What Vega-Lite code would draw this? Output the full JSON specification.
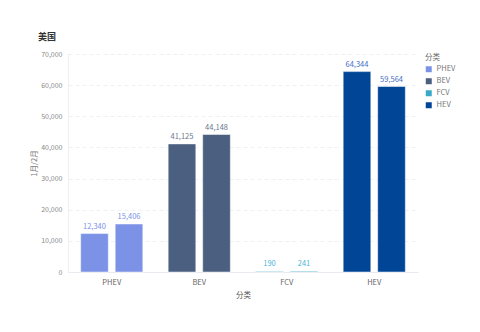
{
  "$schema": "https://vega.github.io/schema/vega-lite/v6.json",
  "autosize": {"type": "none"},
  "width": 350,
  "height": 218,
  "padding": {"left": 68, "top": 54, "right": 62, "bottom": 60},
  "background": "#ffffff",
  "title": {
    "text": "美国",
    "anchor": "start",
    "frame": "group",
    "dx": -30,
    "offset": 8,
    "font": "Noto Sans CJK SC",
    "fontSize": 9,
    "fontWeight": "bold",
    "color": "#333333"
  },
  "data": {
    "values": [
      {"分类": "PHEV", "月份": "1月", "销量": 12340},
      {"分类": "PHEV", "月份": "2月", "销量": 15406},
      {"分类": "BEV", "月份": "1月", "销量": 41125},
      {"分类": "BEV", "月份": "2月", "销量": 44148},
      {"分类": "FCV", "月份": "1月", "销量": 190},
      {"分类": "FCV", "月份": "2月", "销量": 241},
      {"分类": "HEV", "月份": "1月", "销量": 64344},
      {"分类": "HEV", "月份": "2月", "销量": 59564}
    ]
  },
  "encoding": {
    "x": {
      "field": "分类",
      "type": "nominal",
      "sort": ["PHEV", "BEV", "FCV", "HEV"],
      "scale": {"paddingInner": 0.29, "paddingOuter": 0.145},
      "axis": {
        "title": "分类",
        "labelAngle": 0,
        "ticks": false,
        "labelPadding": 6,
        "titlePadding": 6,
        "domainColor": "#e8eaef",
        "labelColor": "#666666",
        "titleColor": "#555555",
        "labelFontSize": 7.5,
        "titleFontSize": 7.5,
        "titleFontWeight": "normal",
        "labelFont": "Noto Sans CJK SC",
        "titleFont": "Noto Sans CJK SC"
      }
    },
    "xOffset": {
      "field": "月份",
      "type": "nominal",
      "scale": {"paddingInner": 0.2, "paddingOuter": 0}
    },
    "y": {
      "field": "销量",
      "type": "quantitative",
      "scale": {"domain": [0, 70000]},
      "axis": {
        "title": "1月/2月",
        "values": [0, 10000, 20000, 30000, 40000, 50000, 60000, 70000],
        "format": ",.0f",
        "ticks": false,
        "labelPadding": 6,
        "titlePadding": 2,
        "domain": true,
        "domainColor": "#eef0f4",
        "gridColor": "#eef0f4",
        "gridDash": [4, 3],
        "labelColor": "#888888",
        "titleColor": "#777777",
        "labelFontSize": 7,
        "titleFontSize": 7.5,
        "titleFontWeight": "normal",
        "labelFont": "Noto Sans CJK SC",
        "titleFont": "Noto Sans CJK SC"
      }
    }
  },
  "layer": [
    {
      "mark": {"type": "bar", "stroke": "#ffffff", "strokeWidth": 0.8, "strokeOpacity": 0.6},
      "encoding": {
        "color": {
          "field": "分类",
          "type": "nominal",
          "sort": ["PHEV", "BEV", "FCV", "HEV"],
          "scale": {
            "domain": ["PHEV", "BEV", "FCV", "HEV"],
            "range": ["#7b92e6", "#4b5f80", "#38a9c8", "#004596"]
          },
          "legend": {
            "title": "分类",
            "orient": "right",
            "offset": 7,
            "symbolType": "square",
            "symbolSize": 36,
            "symbolStrokeWidth": 0,
            "rowPadding": 3,
            "labelFontSize": 7.5,
            "titleFontSize": 7.5,
            "titleFontWeight": "normal",
            "labelColor": "#777777",
            "titleColor": "#666666",
            "labelFont": "Noto Sans CJK SC",
            "titleFont": "Noto Sans CJK SC",
            "titlePadding": 4
          }
        }
      }
    },
    {
      "mark": {
        "type": "text",
        "baseline": "bottom",
        "dy": -3,
        "fontSize": 7.5,
        "font": "Noto Sans CJK SC"
      },
      "encoding": {
        "text": {"field": "销量", "type": "quantitative", "format": ",.0f"},
        "color": {
          "field": "分类",
          "type": "nominal",
          "scale": {
            "domain": ["PHEV", "BEV", "FCV", "HEV"],
            "range": ["#7b92e6", "#6a778c", "#4ab4d4", "#3f6fc4"]
          },
          "legend": null
        }
      }
    }
  ],
  "resolve": {"scale": {"color": "independent"}},
  "config": {
    "view": {"stroke": null},
    "axisX": {"grid": false}
  }
}
